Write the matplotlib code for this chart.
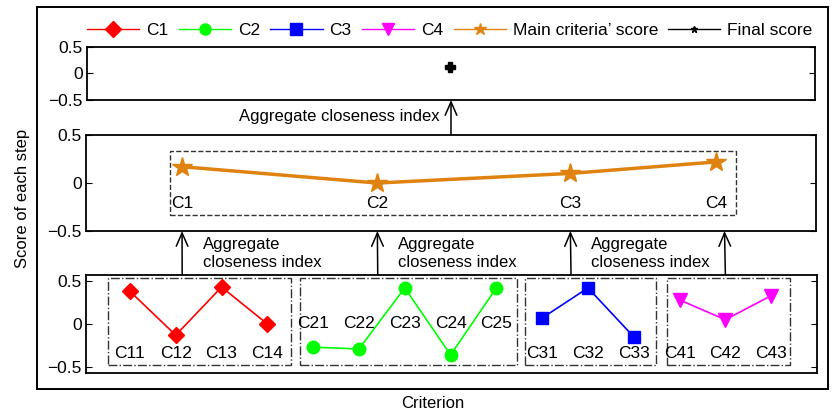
import matplotlib
matplotlib.use("Agg")
import matplotlib.pyplot as plt
from matplotlib.patches import Rectangle
from matplotlib.lines import Line2D

plt.rcParams['font.family'] = ['Liberation Sans', 'DejaVu Sans']
plt.rcParams['font.size'] = 12

# sub-criteria scores, one list per main criterion
sub_names = [['C11', 'C12', 'C13', 'C14'],
             ['C21', 'C22', 'C23', 'C24', 'C25'],
             ['C31', 'C32', 'C33'],
             ['C41', 'C42', 'C43']]
sub_scores = [[0.38, -0.13, 0.43, 0.0],
              [-0.27, -0.29, 0.42, -0.36, 0.42],
              [0.07, 0.42, -0.15],
              [0.28, 0.05, 0.33]]

main_names = ['C1', 'C2', 'C3', 'C4']
main_scores = [0.17, 0.0, 0.10, 0.22]

final_score = 0.12

sub_colors = ['red', 'lime', 'blue', 'magenta']
sub_markers = ['D', 'o', 's', 'v']
sub_msize = [8, 9, 9, 10]
orange = '#E0820F'

fig = plt.figure(figsize=(8.34, 4.17), dpi=100)

# outer frame carrying the shared axis labels
ax_out = fig.add_axes([0.0444, 0.0671, 0.9484, 0.916])
ax_out.set_xticks([])
ax_out.set_yticks([])
ax_out.set_ylabel('Score of each step', labelpad=5)
ax_out.set_xlabel('Criterion', labelpad=5)
for s in ax_out.spines.values():
    s.set_linewidth(1.4)

ax_top = fig.add_axes([0.1043, 0.7602, 0.873, 0.1271])
ax_mid = fig.add_axes([0.1031, 0.446, 0.8753, 0.2302])
ax_bot = fig.add_axes([0.1031, 0.1055, 0.8765, 0.235])

for ax in (ax_top, ax_mid, ax_bot):
    ax.set_xlim(0.04, 16.0)
    ax.set_xticks([])
    ax.set_yticks([-0.5, 0, 0.5])
    ax.set_yticklabels(['\u22120.5', '0', '0.5'])
    ax.tick_params(axis='y', direction='in', length=4, right=True, pad=3,
                   labelsize=12.5)
    for s in ax.spines.values():
        s.set_linewidth(1.3)

ax_top.set_ylim(-0.5, 0.5)
ax_mid.set_ylim(-0.5, 0.5)
ax_bot.set_ylim(-0.57, 0.57)

# bottom: sub-criteria, grouped in dash-dot boxes
pos = 1
boxes = [(0.52, 4.52), (4.71, 9.45), (9.62, 12.49), (12.73, 15.41)]
label_y = [-0.34, 0.01, -0.34, -0.34]
for i in range(4):
    xs = list(range(pos, pos + len(sub_scores[i])))
    ax_bot.plot(xs, sub_scores[i], color=sub_colors[i], marker=sub_markers[i],
                markersize=sub_msize[i], lw=1.2)
    for x, name in zip(xs, sub_names[i]):
        ax_bot.text(x, label_y[i], name, ha='center', va='center', fontsize=12.5)
    x0, x1 = boxes[i]
    ax_bot.add_patch(Rectangle((x0, -0.477), x1 - x0, 1.012, fill=False,
                               ls='-.', lw=1, ec='0.2'))
    pos += len(sub_scores[i])

# middle: main criteria
main_x = [2.14, 6.41, 10.63, 13.82]
ax_mid.plot(main_x, main_scores, color=orange, lw=2.5, marker='*',
            markersize=15)
for x, name in zip(main_x, main_names):
    ax_mid.text(x, -0.21, name, ha='center', va='center', fontsize=12.5)
ax_mid.add_patch(Rectangle((1.87, -0.333), 14.25 - 1.87, 0.669, fill=False,
                           ls='--', lw=1, ec='0.2'))

# top: final score
ax_top.plot([8.0], [final_score], color='k', marker='P', markersize=7, ls='none')

# arrows between the levels
arrow_kw = dict(arrowstyle='->,head_length=0.8,head_width=0.35', color='k', lw=1.1,
                shrinkA=0, shrinkB=0)
arrow_x = [2.14, 6.41, 10.63, 14.0]
for i, x in enumerate(arrow_x):
    ax_mid.annotate('', xy=(x, 0), xycoords=(ax_mid.transData, ax_mid.transAxes),
                    xytext=(x, 1), textcoords=(ax_bot.transData, ax_bot.transAxes),
                    arrowprops=arrow_kw)
    if i < 3:
        ax_mid.annotate('Aggregate\ncloseness index', xy=(x + 0.45, -0.23),
                        xycoords=(ax_mid.transData, ax_mid.transAxes),
                        ha='left', va='center', fontsize=12, linespacing=1.25)
ax_top.annotate('', xy=(8.02, 0), xycoords=(ax_top.transData, ax_top.transAxes),
                xytext=(8.02, 1), textcoords=(ax_mid.transData, ax_mid.transAxes),
                arrowprops=arrow_kw)
ax_top.annotate('Aggregate closeness index', xy=(7.78, -0.32),
                xycoords=(ax_top.transData, ax_top.transAxes),
                ha='right', va='center', fontsize=12)

# legend
handles = [Line2D([], [], color=c, marker=m, markersize=8, lw=1)
           for c, m in zip(sub_colors, sub_markers)]
handles.append(Line2D([], [], color=orange, marker='*', markersize=9, lw=1))
handles.append(Line2D([], [], color='k', marker='*', markersize=5, lw=1))
ax_out.legend(handles, main_names + ["Main criteria\u2019 score", 'Final score'],
              loc='upper center', bbox_to_anchor=(0.522, 0.99), ncol=6,
              frameon=False, fontsize=12.5, handlelength=3.0, handletextpad=0.4,
              columnspacing=0.6, borderpad=0.2)

fig.savefig('out.png', dpi=100)
